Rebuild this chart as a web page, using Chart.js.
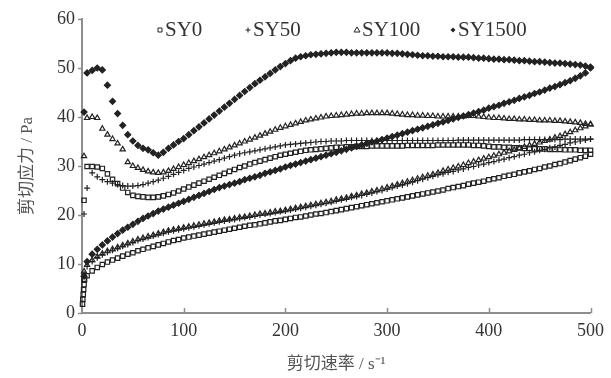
<!DOCTYPE html>
<html>
<head>
<meta charset="utf-8">
<script src="https://cdn.jsdelivr.net/npm/chart.js@4.4.0/dist/chart.umd.min.js"></script>
<style>
  html, body { margin: 0; padding: 0; background: #fff; }
  #wrap { width: 611px; height: 378px; }
</style>
</head>
<body>
<div id="wrap"><canvas id="chart-tixotropia" width="611" height="378"></canvas></div>
<script>
// ─── Dados ─────────────────────────────────────────────

// taxa de cisalhamento / s-1 (mesmos pontos na subida e na descida)
const rate = [
  2, 5, 10, 15, 20, 25, 30, 35, 40, 45,
  50, 55, 60, 65, 70, 75, 80, 85, 90, 95,
  100, 105, 110, 115, 120, 125, 130, 135, 140, 145,
  150, 155, 160, 165, 170, 175, 180, 185, 190, 195,
  200, 205, 210, 215, 220, 225, 230, 235, 240, 245,
  250, 255, 260, 265, 270, 275, 280, 285, 290, 295,
  300, 305, 310, 315, 320, 325, 330, 335, 340, 345,
  350, 355, 360, 365, 370, 375, 380, 385, 390, 395,
  400, 405, 410, 415, 420, 425, 430, 435, 440, 445,
  450, 455, 460, 465, 470, 475, 480, 485, 490, 495,
  500
];

// SY0: curva superior / inferior (Pa)
const sy0Upper = [
  23.0, 29.9, 29.9, 29.8, 29.5, 28.4, 27.3, 26.4, 25.5, 24.6,
  24.0, 23.8, 23.7, 23.6, 23.6, 23.7, 23.9, 24.2, 24.5, 24.9,
  25.3, 25.7, 26.1, 26.5, 26.9, 27.3, 27.7, 28.1, 28.5, 28.9,
  29.3, 29.7, 30.0, 30.4, 30.7, 31.0, 31.3, 31.6, 31.9, 32.2,
  32.4, 32.6, 32.8, 33.0, 33.2, 33.3, 33.4, 33.5, 33.6, 33.7,
  33.8, 33.8, 33.9, 33.9, 34.0, 34.0, 34.0, 34.1, 34.1, 34.1,
  34.1, 34.1, 34.1, 34.1, 34.2, 34.2, 34.2, 34.2, 34.2, 34.2,
  34.3, 34.3, 34.3, 34.3, 34.3, 34.3, 34.3, 34.2, 34.2, 34.1,
  34.0, 33.9, 33.9, 33.8, 33.8, 33.7, 33.7, 33.6, 33.6, 33.5,
  33.5, 33.5, 33.4, 33.4, 33.4, 33.3, 33.3, 33.3, 33.2, 33.2,
  33.2
];
const sy0Lower = [
  6.9, 7.6, 8.6, 9.3, 9.9, 10.4, 10.8, 11.2, 11.6, 12.0,
  12.3, 12.7, 13.0, 13.3, 13.6, 13.9, 14.2, 14.5, 14.8, 15.0,
  15.3, 15.5, 15.7, 15.9, 16.1, 16.3, 16.5, 16.7, 16.9, 17.1,
  17.3, 17.5, 17.7, 17.9, 18.0, 18.2, 18.4, 18.6, 18.8, 18.9,
  19.1, 19.3, 19.5, 19.6, 19.8, 20.0, 20.2, 20.3, 20.5, 20.7,
  20.9, 21.1, 21.3, 21.5, 21.7, 21.9, 22.1, 22.3, 22.5, 22.7,
  22.9, 23.1, 23.3, 23.5, 23.7, 23.9, 24.1, 24.3, 24.5, 24.7,
  24.9, 25.1, 25.4, 25.6, 25.8, 26.0, 26.3, 26.5, 26.7, 26.9,
  27.2, 27.4, 27.6, 27.9, 28.1, 28.3, 28.6, 28.8, 29.0, 29.3,
  29.5, 29.8, 30.0, 30.3, 30.5, 30.8, 31.1, 31.4, 31.7, 32.0,
  32.4
];
// pontos iniciais do SY0 muito perto de zero
const rateNearZero = [0.5, 0.8, 1.2, 1.6, 2.0, 2.5];
const sy0NearZero = [1.8, 2.8, 3.8, 4.8, 5.8, 6.8];

// SY50
const sy50Upper = [
  20.2, 25.5, 28.6, 27.8, 27.2, 26.8, 26.5, 26.2, 26.0, 25.9,
  25.9, 26.0, 26.2, 26.5, 26.8, 27.1, 27.5, 27.9, 28.3, 28.7,
  29.1, 29.5, 29.8, 30.1, 30.4, 30.7, 31.0, 31.3, 31.6, 31.9,
  32.2, 32.5, 32.7, 32.9, 33.1, 33.3, 33.5, 33.7, 33.9, 34.1,
  34.3, 34.4, 34.5, 34.6, 34.7, 34.8, 34.9, 35.0, 35.0, 35.1,
  35.1, 35.1, 35.2, 35.2, 35.2, 35.2, 35.2, 35.2, 35.2, 35.2,
  35.2, 35.2, 35.2, 35.2, 35.2, 35.2, 35.2, 35.2, 35.2, 35.2,
  35.2, 35.2, 35.2, 35.2, 35.3, 35.3, 35.3, 35.3, 35.3, 35.3,
  35.3, 35.3, 35.3, 35.3, 35.3, 35.3, 35.3, 35.4, 35.4, 35.4,
  35.4, 35.4, 35.4, 35.4, 35.4, 35.5, 35.5, 35.5, 35.5, 35.5,
  35.5
];
const sy50Lower = [
  8.0, 9.5, 10.5, 11.3, 11.9, 12.4, 12.8, 13.2, 13.6, 14.0,
  14.4, 14.8, 15.1, 15.4, 15.7, 16.0, 16.3, 16.6, 16.8, 17.0,
  17.2, 17.4, 17.6, 17.8, 18.0, 18.2, 18.4, 18.6, 18.8, 19.0,
  19.1, 19.3, 19.5, 19.6, 19.8, 20.0, 20.2, 20.3, 20.5, 20.7,
  20.8, 21.0, 21.2, 21.4, 21.6, 21.8, 22.0, 22.2, 22.4, 22.6,
  22.9, 23.1, 23.3, 23.6, 23.8, 24.0, 24.3, 24.5, 24.8, 25.0,
  25.3, 25.6, 25.9, 26.1, 26.4, 26.7, 27.0, 27.3, 27.6, 27.9,
  28.2, 28.4, 28.7, 28.9, 29.2, 29.4, 29.7, 29.9, 30.2, 30.4,
  30.7, 30.9, 31.2, 31.4, 31.7, 31.9, 32.2, 32.4, 32.7, 32.9,
  33.2, 33.4, 33.7, 33.9, 34.2, 34.4, 34.7, 34.9, 35.1, 35.3,
  35.5
];

// SY100
const sy100Upper = [
  32.0, 39.8, 40.0, 39.8, 37.6, 36.4, 35.5, 34.6, 33.4, 30.8,
  30.0, 29.6, 29.2, 28.9, 28.7, 28.6, 28.7, 29.0, 29.4, 29.8,
  30.2, 30.6, 31.0, 31.4, 31.8, 32.2, 32.6, 33.0, 33.4, 33.8,
  34.2, 34.6, 35.0, 35.4, 35.8, 36.2, 36.6, 37.0, 37.4, 37.8,
  38.1, 38.4, 38.7, 39.0, 39.3, 39.5, 39.7, 39.9, 40.1, 40.2,
  40.3, 40.4, 40.5, 40.6, 40.7, 40.7, 40.8, 40.8, 40.8, 40.8,
  40.8, 40.7, 40.6, 40.5, 40.4, 40.4, 40.3, 40.3, 40.2, 40.2,
  40.1, 40.1, 40.1, 40.1, 40.1, 40.1, 40.2, 40.2, 40.1, 40.0,
  39.9, 39.8, 39.8, 39.7, 39.6, 39.6, 39.5, 39.5, 39.4, 39.4,
  39.3, 39.3, 39.3, 39.2, 39.2, 39.1, 39.0, 38.9, 38.8, 38.6,
  38.5
];
const sy100Lower = [
  8.5, 9.8, 10.8, 11.5, 12.1, 12.6, 13.0, 13.4, 13.8, 14.2,
  14.6, 15.0, 15.3, 15.6, 15.9, 16.2, 16.5, 16.8, 17.0, 17.2,
  17.4, 17.6, 17.8, 18.0, 18.2, 18.4, 18.6, 18.8, 19.0, 19.1,
  19.3, 19.5, 19.6, 19.8, 20.0, 20.2, 20.3, 20.5, 20.7, 20.8,
  21.0, 21.2, 21.4, 21.6, 21.8, 22.0, 22.2, 22.4, 22.6, 22.8,
  23.1, 23.3, 23.5, 23.8, 24.0, 24.3, 24.5, 24.8, 25.0, 25.3,
  25.6, 25.9, 26.2, 26.5, 26.8, 27.1, 27.4, 27.7, 28.0, 28.3,
  28.6, 29.0, 29.3, 29.6, 29.9, 30.2, 30.6, 30.9, 31.2, 31.5,
  31.8, 32.1, 32.4, 32.7, 33.0, 33.3, 33.6, 33.9, 34.2, 34.5,
  34.8, 35.1, 35.4, 35.8, 36.1, 36.5, 36.9, 37.3, 37.7, 38.1,
  38.5
];

// SY1500
const sy1500Upper = [
  41.0, 49.0, 49.5, 50.0, 49.6, 46.5, 43.2, 40.7, 38.3, 36.4,
  35.1, 34.2, 33.6, 33.3, 32.7, 32.2, 32.8, 33.6, 34.3, 35.0,
  35.6, 36.4, 37.2, 38.0, 38.8, 39.6, 40.4, 41.2, 42.0, 42.8,
  43.6, 44.4, 45.2, 46.0, 46.8, 47.5, 48.2, 48.9, 49.6, 50.3,
  50.9, 51.5, 52.0, 52.3, 52.5, 52.7, 52.8, 52.9, 53.0, 53.1,
  53.2, 53.2, 53.2, 53.1, 53.1, 53.1, 53.1, 53.1, 53.1, 53.1,
  53.1, 53.0, 53.0, 52.9, 52.8, 52.7, 52.6, 52.5, 52.5, 52.4,
  52.4, 52.3, 52.3, 52.3, 52.2, 52.2, 52.2, 52.1, 52.0, 52.0,
  51.9, 51.8, 51.8, 51.7, 51.7, 51.6, 51.5, 51.5, 51.4, 51.3,
  51.3, 51.2, 51.1, 51.0, 51.0, 50.9, 50.8, 50.7, 50.6, 50.4,
  50.2
];
const sy1500Lower = [
  7.5, 10.5, 12.0, 13.0, 13.9, 14.7, 15.5, 16.2, 16.9, 17.5,
  18.1, 18.7, 19.3, 19.8, 20.3, 20.8, 21.2, 21.6, 22.0, 22.4,
  22.8, 23.2, 23.6, 24.0, 24.4, 24.8, 25.2, 25.6, 25.9, 26.2,
  26.5, 26.8, 27.2, 27.5, 27.8, 28.1, 28.5, 28.8, 29.1, 29.4,
  29.8, 30.1, 30.4, 30.7, 31.0, 31.3, 31.6, 31.9, 32.2, 32.5,
  32.8, 33.1, 33.4, 33.7, 34.0, 34.3, 34.6, 34.9, 35.1, 35.4,
  35.7, 36.0, 36.3, 36.6, 36.9, 37.2, 37.5, 37.8, 38.1, 38.4,
  38.7, 39.0, 39.3, 39.6, 39.9, 40.2, 40.5, 40.8, 41.1, 41.4,
  41.8, 42.1, 42.4, 42.8, 43.1, 43.4, 43.8, 44.1, 44.4, 44.8,
  45.1, 45.5, 45.9, 46.2, 46.6, 47.0, 47.4, 47.9, 48.4, 49.0,
  50.0
];

const xTicks = [0, 100, 200, 300, 400, 500];
const yTicks = [0, 10, 20, 30, 40, 50, 60];

// ─── Montagem ──────────────────────────────────────────

const INK = '#222';
const AXIS = '#8e8e8e';
const SERIF = "'Liberation Serif', 'Times New Roman', serif";
const TITLE_FONT = "'Liberation Serif', 'Noto Sans CJK SC', serif";

function pts(xs, ys) {
  return ys.map((y, i) => ({ x: xs[i], y }));
}

function serie(label, style, radius, fill, arrays) {
  let data = [];
  arrays.forEach(([xs, ys]) => { data = data.concat(pts(xs, ys)); });
  return {
    label,
    data,
    pointStyle: style,
    pointRadius: radius,
    pointHoverRadius: radius,
    pointBorderWidth: 1.2,
    pointBorderColor: INK,
    pointBackgroundColor: fill,
    showLine: false,
    clip: false,
  };
}

const datasets = [
  serie('SY0', 'rect', 3.1, 'rgba(255,255,255,0)',
    [[rate, sy0Upper], [rate, sy0Lower], [rateNearZero, sy0NearZero]]),
  serie('SY50', 'cross', 3.0, INK, [[rate, sy50Upper], [rate, sy50Lower]]),
  serie('SY100', 'triangle', 3.0, 'rgba(255,255,255,0)', [[rate, sy100Upper], [rate, sy100Lower]]),
  serie('SY1500', 'rectRot', 3.0, INK, [[rate, sy1500Upper], [rate, sy1500Lower]]),
];

// marcas dos eixos (x para dentro, y para fora) + legenda no topo
const eixosPlugin = {
  id: 'eixos',
  afterDraw(chart) {
    const { ctx, chartArea: a, scales: { x, y } } = chart;
    ctx.save();
    ctx.strokeStyle = AXIS;
    ctx.lineWidth = 1.5;
    ctx.beginPath();
    xTicks.forEach(v => {
      if (v === 0) return;
      const px = Math.round(x.getPixelForValue(v)) + 0.5;
      ctx.moveTo(px, a.bottom);
      ctx.lineTo(px, a.bottom - 5);
    });
    yTicks.forEach(v => {
      const py = Math.round(y.getPixelForValue(v)) + 0.5;
      ctx.moveTo(a.left - 4, py);
      ctx.lineTo(a.left, py);
    });
    ctx.stroke();

    // legenda
    const textX = [165, 253, 362, 458];
    const markY = 30;
    ctx.font = '21px ' + SERIF;
    ctx.textBaseline = 'alphabetic';
    ctx.textAlign = 'left';
    chart.data.datasets.forEach((ds, i) => {
      const mx = textX[i] - 5;
      ctx.strokeStyle = INK;
      ctx.fillStyle = INK;
      ctx.lineWidth = 1;
      ctx.beginPath();
      if (ds.pointStyle === 'rect') {
        ctx.rect(mx - 2, markY - 2, 4, 4);
        ctx.stroke();
      } else if (ds.pointStyle === 'cross') {
        ctx.moveTo(mx - 2.5, markY); ctx.lineTo(mx + 2.5, markY);
        ctx.moveTo(mx, markY - 2.5); ctx.lineTo(mx, markY + 2.5);
        ctx.stroke();
      } else if (ds.pointStyle === 'triangle') {
        ctx.moveTo(mx, markY - 3); ctx.lineTo(mx + 3, markY + 2); ctx.lineTo(mx - 3, markY + 2);
        ctx.closePath();
        ctx.stroke();
      } else {
        ctx.moveTo(mx, markY - 2.5); ctx.lineTo(mx + 2.5, markY);
        ctx.lineTo(mx, markY + 2.5); ctx.lineTo(mx - 2.5, markY);
        ctx.closePath();
        ctx.fill();
      }
      ctx.fillStyle = '#333';
      ctx.fillText(ds.label, textX[i], 36);
    });
    ctx.restore();
  }
};

new Chart(document.getElementById('chart-tixotropia'), {
  type: 'scatter',
  data: { datasets },
  plugins: [eixosPlugin],
  options: {
    responsive: false,
    animation: false,
    devicePixelRatio: 1,
    layout: { padding: { left: 0, right: 16, top: 19, bottom: 0 } },
    plugins: {
      legend: { display: false },
      tooltip: { enabled: false },
    },
    scales: {
      x: {
        type: 'linear',
        min: 0, max: 500,
        afterFit: s => { s.height = 65; },
        afterBuildTicks: s => { s.ticks = xTicks.map(v => ({ value: v })); },
        ticks: { font: { family: SERIF, size: 18 }, color: '#333', padding: 7, maxRotation: 0 },
        grid: { display: false, drawTicks: false },
        border: { display: true, color: AXIS, width: 2 },
        title: {
          display: true,
          text: '剪切速率 / s⁻¹',
          font: { family: TITLE_FONT, size: 17 },
          color: '#555',
          padding: { top: 0, bottom: 3 },
        },
      },
      y: {
        type: 'linear',
        min: 0, max: 60,
        afterFit: s => { s.width = 82; },
        afterBuildTicks: s => { s.ticks = yTicks.map(v => ({ value: v })); },
        ticks: { font: { family: SERIF, size: 18 }, color: '#333', padding: 7 },
        grid: { display: false, drawTicks: false },
        border: { display: true, color: AXIS, width: 2 },
        title: {
          display: true,
          text: '剪切应力 / Pa',
          font: { family: TITLE_FONT, size: 17 },
          color: '#555',
          padding: { top: 17, bottom: 0 },
        },
      },
    },
  },
});
</script>
</body>
</html>
